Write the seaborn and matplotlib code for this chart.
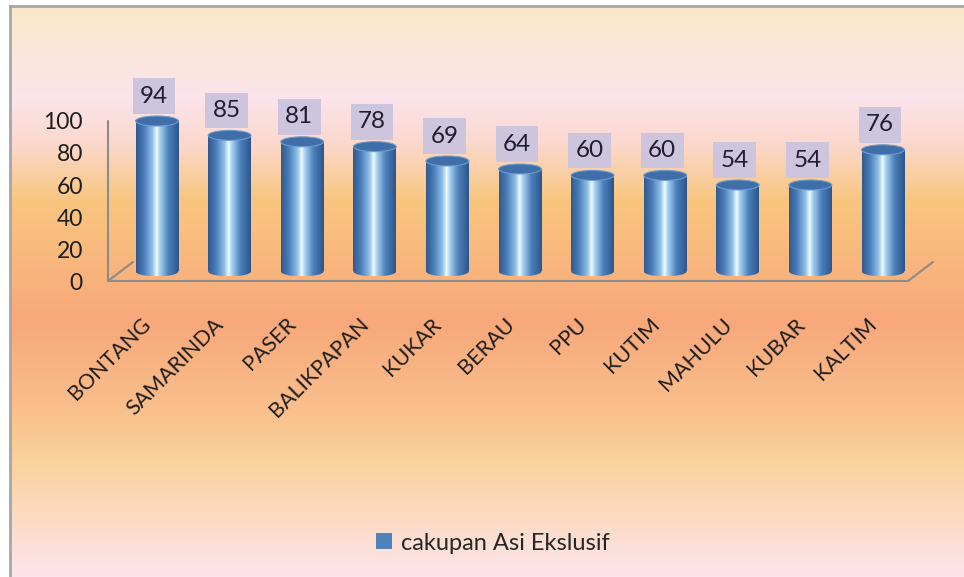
"""
Cakupan ASI eksklusif per kabupaten/kota - Excel style 3D cylinder chart
"""

import numpy as np
import pandas as pd
import seaborn as sns
import matplotlib

matplotlib.use("Agg")
import matplotlib.pyplot as plt
from matplotlib.colors import LinearSegmentedColormap
from matplotlib.patches import Ellipse, Rectangle
from matplotlib.transforms import ScaledTranslation

# data
REGIONS = [
    "BONTANG", "SAMARINDA", "PASER", "BALIKPAPAN", "KUKAR", "BERAU",
    "PPU", "KUTIM", "MAHULU", "KUBAR", "KALTIM",
]
COVERAGE = [94, 85, 81, 78, 69, 64, 60, 60, 54, 54, 76]
Y_TICKS = [0, 20, 40, 60, 80, 100]
SERIES_NAME = "cakupan Asi Ekslusif"

W, H, DPI = 964, 577, 100
PX_X = 72.6   # pixels per category
PX_Y = 1.6    # pixels per value unit
FLOOR = 6     # bars stand in the middle of the 3D floor

sns.set_theme(style="white")
plt.rcParams["font.family"] = ["Lato", "DejaVu Sans"]

fig = plt.figure(figsize=(W / DPI, H / DPI), dpi=DPI)
fig.patch.set_facecolor("white")

# background gradient (whole chart area)
bg = fig.add_axes([10 / W, 0, 1 - 10 / W, 1 - 6 / H], zorder=-10)
bg_cmap = LinearSegmentedColormap.from_list(
    "bg",
    [
        (0.0, "#FAE8C8"),
        (0.16, "#FCE4EC"),
        (0.24, "#FBD8CC"),
        (0.34, "#F9C67F"),
        (0.55, "#F8A87B"),
        (0.69, "#F9BC8A"),
        (0.80, "#FAD29D"),
        (1.0, "#FDE4EC"),
    ],
)
bg.imshow(np.linspace(0, 1, 256).reshape(-1, 1), cmap=bg_cmap, aspect="auto",
          extent=[0, 1, 0, 1])
bg.set_xticks([])
bg.set_yticks([])
for side in ["right", "bottom"]:
    bg.spines[side].set_visible(False)
for side in ["left", "top"]:
    bg.spines[side].set_color("#A6A6A6")
    bg.spines[side].set_linewidth(2)

# plot area
x_left = -49 / PX_X
x_right = 10 + 29 / PX_X
ax_w_px = (x_right - x_left) * PX_X
ax = fig.add_axes([108 / W, (H - 281) / H, ax_w_px / W, 125 * PX_Y / H])
ax.patch.set_alpha(0)

df = pd.DataFrame({"region": REGIONS, "coverage": COVERAGE})
sns.barplot(data=df, x="region", y="coverage", ax=ax, width=0.59,
            color="#4F81BD", saturation=1)

cyl_cmap = LinearSegmentedColormap.from_list(
    "cyl",
    [
        (0.0, "#2F5A8F"),
        (0.18, "#4A7DB9"),
        (0.38, "#8FBFE8"),
        (0.48, "#F0FBFF"),
        (0.56, "#A7D0F0"),
        (0.76, "#4C7FBB"),
        (1.0, "#2C5689"),
    ],
)
grad = np.linspace(0, 1, 128).reshape(1, -1)
ell_h = 10 / PX_Y

for patch, val in zip(ax.patches, COVERAGE):
    x0 = patch.get_x()
    w = patch.get_width()
    h = patch.get_height()
    cx = x0 + w / 2
    top = FLOOR + h
    patch.set_visible(False)

    # cylinder body
    ax.imshow(grad, cmap=cyl_cmap, aspect="auto", zorder=2,
              extent=[x0, x0 + w, FLOOR, top])
    # rounded bottom
    bottom_ell = Ellipse((cx, FLOOR), w, ell_h, transform=ax.transData)
    im = ax.imshow(grad, cmap=cyl_cmap, aspect="auto", zorder=2,
                   extent=[x0, x0 + w, FLOOR - ell_h / 2, FLOOR])
    im.set_clip_path(bottom_ell)
    # top cap
    ax.add_patch(Ellipse((cx, top), w, ell_h, facecolor="#3F6EA8",
                         edgecolor="#6E9BD0", lw=0.8, zorder=3))

    # value label
    ax.text(cx - 3 / PX_X, top + 15.5, str(val), ha="center", va="center",
            fontsize=17.5, color="#1E1E30", zorder=4,
            bbox=dict(boxstyle="square,pad=0.3", fc="#CDC5DE", ec="none"))

# 3D floor and wall lines
line_kw = dict(color="#8C8C8C", lw=1.5, clip_on=False, zorder=1)
dx, dy = 25 / PX_X, 19 / PX_Y
ax.plot([x_left, x_left], [0, 100], **line_kw)
ax.plot([x_left, x_right - 4 / PX_X], [0, 0], **line_kw)
ax.plot([x_left, x_left + dx], [0, dy], **line_kw)
ax.plot([x_right - 4 / PX_X, x_right - 4 / PX_X + dx], [0, dy], **line_kw)

ax.set_xlim(x_left, x_right)
ax.set_ylim(0, 125)
for side in ax.spines.values():
    side.set_visible(False)
ax.grid(False)
ax.set_xlabel("")
ax.set_ylabel("")

ax.set_yticks(Y_TICKS)
ax.set_yticklabels([str(t) for t in Y_TICKS], fontsize=16.5, color="#1E1E1E")
ax.tick_params(axis="y", length=0, pad=18)

ax.set_xticks(range(len(REGIONS)))
ax.set_xticklabels(REGIONS, rotation=45, ha="right", va="center",
                   rotation_mode="anchor", fontsize=15.5, color="#1E1E1E")
ax.tick_params(axis="x", length=0, pad=29)
shift = ScaledTranslation(-9 / DPI, 0, fig.dpi_scale_trans)
for lbl in ax.get_xticklabels():
    lbl.set_transform(lbl.get_transform() + shift)

# legend
handle = Rectangle((0, 0), 1, 1, facecolor="#4F81BD", edgecolor="none")
fig.legend(handles=[handle], labels=[SERIES_NAME], loc="center",
           bbox_to_anchor=(493 / W, 1 - 543 / H), frameon=False, fontsize=17,
           handlelength=0.65, handleheight=0.65, handletextpad=0.4)

fig.savefig("out.png", dpi=DPI)
